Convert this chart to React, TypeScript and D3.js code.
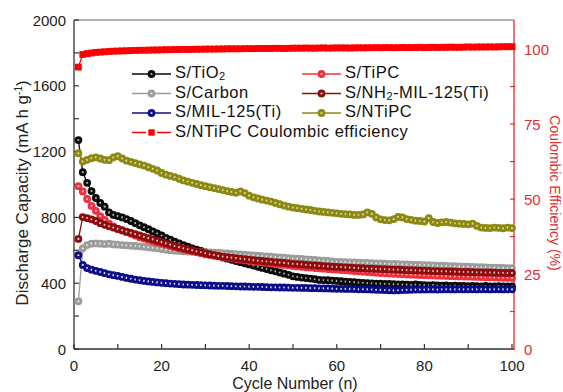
import React, { useEffect, useRef } from 'react';
import * as d3 from 'd3';

// cycle numbers 1..100
const cycles = d3.range(1, 101);

// discharge capacity (mA h g-1)
const tio2 = [1270,1075,1010,960,918,888,865,830,815,808,
  800,790,778,765,752,740,728,715,702,690,
  676,664,652,642,632,622,612,604,596,588,
  580,572,564,556,549,542,535,528,521,514,
  507,500,493,486,478,472,465,458,451,442,
  438,434,431,428,424,420,419,418,416,414,
  412,410,408,406,404,402,400,399,398,397,
  396,395,394,393,392,391,390,392,389,388,
  387,388,386,385,386,384,385,383,384,382,
  383,382,381,383,381,380,382,381,380,381];

const carbon = [290,612,632,640,642,640,638,640,636,634,
  632,630,628,626,624,621,618,615,612,608,
  604,601,598,596,594,592,591,590,589,588,
  587,586,585,583,581,579,577,575,573,571,
  569,567,565,563,561,559,557,555,553,551,
  549,547,545,543,541,539,537,535,532,530,
  529,528,527,526,525,524,523,522,521,520,
  519,518,517,516,515,514,513,512,511,510,
  509,508,507,506,505,504,503,502,501,500,
  499,498,497,496,495,495,494,493,492,492];

const tipc = [990,958,912,870,840,808,785,762,745,730,
  720,710,700,690,680,671,663,655,647,640,
  633,626,619,612,605,599,593,587,581,575,
  571,567,563,559,555,551,547,543,539,535,
  532,529,526,523,520,517,514,511,508,505,
  502,500,497,495,492,490,488,486,484,482,
  480,478,476,474,472,470,468,466,464,462,
  460,459,457,456,455,453,452,451,450,449,
  448,447,446,445,444,443,442,441,440,440,
  439,438,437,436,436,435,434,433,433,432];

const nh2mil = [669,802,796,788,778,765,755,746,738,730,
  722,714,706,698,690,682,674,666,658,650,
  642,634,626,619,612,606,600,594,588,582,
  576,571,566,562,558,555,552,549,546,543,
  540,537,535,532,530,527,525,523,520,518,
  516,514,512,510,508,506,504,502,500,499,
  498,496,495,493,492,491,489,488,487,486,
  485,484,483,482,481,480,479,478,477,476,
  475,474,473,472,472,471,470,469,468,468,
  467,466,466,465,465,464,463,463,462,462];

const mil125 = [570,511,492,482,475,468,461,454,449,444,
  438,432,427,422,418,414,411,408,405,402,
  400,398,396,394,392,391,390,389,388,387,
  386,385,384,384,383,382,381,380,380,379,
  378,378,377,376,375,375,374,374,373,372,
  372,371,371,370,370,369,368,368,367,366,
  366,365,365,364,363,363,362,361,360,359,
  358,357,356,357,358,359,360,361,361,361,
  362,362,361,362,363,362,362,363,362,363,
  363,362,363,363,362,363,363,362,363,363];

const ntipc = [1190,1140,1150,1160,1165,1158,1150,1148,1165,1172,
  1158,1145,1138,1130,1122,1115,1105,1095,1085,1070,
  1060,1052,1045,1035,1025,1018,1010,1003,996,990,
  984,978,972,966,960,955,950,958,948,932,
  922,915,908,902,896,888,880,872,865,860,
  856,852,848,845,840,836,833,830,828,825,
  822,820,818,815,815,818,830,822,800,788,
  784,782,790,803,800,790,785,780,778,775,
  796,772,766,770,772,768,764,762,760,758,
  762,748,738,736,735,738,736,734,738,735];

// coulombic efficiency (%) of S/NTiPC
const ce = [94.0,98.2,98.5,98.7,98.9,99.0,99.1,99.2,99.3,99.35,
  99.4,99.45,99.5,99.55,99.6,99.6,99.65,99.7,99.7,99.75,
  99.8,99.8,99.85,99.85,99.9,99.9,99.9,99.95,99.95,100.0,
  100.0,100.0,100.05,100.05,100.1,100.1,100.1,100.1,100.15,100.15,
  100.15,100.2,100.2,100.2,100.2,100.25,100.25,100.2,100.25,100.3,
  100.3,100.3,100.35,100.3,100.3,100.35,100.4,100.3,100.35,100.4,
  100.4,100.4,100.35,100.4,100.45,100.4,100.45,100.45,100.5,100.45,
  100.5,100.5,100.45,100.5,100.55,100.5,100.5,100.55,100.6,100.5,
  100.55,100.6,100.55,100.6,100.6,100.65,100.6,100.6,100.65,100.7,
  100.65,100.7,100.7,100.7,100.75,100.7,100.75,100.8,100.8,100.8];

const xTicks = [0, 20, 40, 60, 80, 100];
const yTicks = [0, 400, 800, 1200, 1600, 2000];
const ceTicks = [0, 25, 50, 75, 100];

const FONT = 'Arial, "Liberation Sans", Helvetica, sans-serif';

// label parts: [text, isSubscript]
const series = [
  { key: 'tio2', values: tio2, label: [['S/TiO', false], ['2', true]], color: '#0a0a0a', dot: '#b0b0b0' },
  { key: 'carbon', values: carbon, label: [['S/Carbon', false]], color: '#9c9c9c', dot: '#e8e8e8' },
  { key: 'tipc', values: tipc, label: [['S/TiPC', false]], color: '#ee3040', dot: '#f8c0c0' },
  { key: 'nh2', values: nh2mil, label: [['S/NH', false], ['2', true], ['-MIL-125(Ti)', false]], color: '#8e0c0c', dot: '#ecc8c8' },
  { key: 'mil', values: mil125, label: [['S/MIL-125(Ti)', false]], color: '#0c0c88', dot: '#dcdcff' },
  { key: 'ntipc', values: ntipc, label: [['S/NTiPC', false]], color: '#8a8a12', dot: '#f0d4b0' },
];

// legend grid [col,row] for each series, CE goes on row 3 col 0
const legendPos: Record<string, [number, number]> = {
  tio2: [0, 0], tipc: [1, 0], carbon: [0, 1], nh2: [1, 1], mil: [0, 2], ntipc: [1, 2],
};

export default function App() {
  const svgRef = useRef<SVGSVGElement>(null);

  useEffect(() => {
    const width = 563;
    const height = 392;
    const left = 74, right = 512, top = 20, bottom = 349;
    const axisR = 514;

    const svg = d3.select(svgRef.current);
    svg.selectAll('*').remove();
    svg.attr('width', width).attr('height', height);

    const x = d3.scaleLinear().domain([0, 100]).range([left, right]);
    const y = d3.scaleLinear().domain([0, 2000]).range([bottom, top]);
    const y2 = d3.scaleLinear().domain([0, 110]).range([bottom, top - 0.9]);

    const g = svg.append('g');

    // frame
    g.append('line').attr('x1', left).attr('x2', axisR).attr('y1', top).attr('y2', top)
      .attr('stroke', '#666').attr('stroke-width', 1.2);
    g.append('line').attr('x1', left).attr('x2', left).attr('y1', top).attr('y2', bottom)
      .attr('stroke', '#333').attr('stroke-width', 1.3);
    g.append('line').attr('x1', left).attr('x2', axisR).attr('y1', bottom).attr('y2', bottom)
      .attr('stroke', '#333').attr('stroke-width', 1.3);
    g.append('line').attr('x1', axisR).attr('x2', axisR).attr('y1', top).attr('y2', bottom)
      .attr('stroke', '#e03030').attr('stroke-width', 1.3);

    // ticks
    d3.range(0, 2001, 200).forEach(v => {
      g.append('line').attr('x1', left).attr('x2', left + 5).attr('y1', y(v)).attr('y2', y(v))
        .attr('stroke', '#333').attr('stroke-width', 1.2);
    });
    d3.range(0, 101, 10).forEach(v => {
      g.append('line').attr('x1', x(v)).attr('x2', x(v)).attr('y1', bottom).attr('y2', bottom - 5)
        .attr('stroke', '#333').attr('stroke-width', 1.2);
    });
    d3.range(0, 101, 12.5).forEach(v => {
      g.append('line').attr('x1', axisR - 4).attr('x2', axisR + 1).attr('y1', y2(v)).attr('y2', y2(v))
        .attr('stroke', '#e03030').attr('stroke-width', 1.2);
    });

    yTicks.forEach(v => {
      g.append('text').attr('x', 66).attr('y', y(v) + 5.5).attr('text-anchor', 'end')
        .attr('font-family', FONT).attr('font-size', 15).attr('fill', '#222').text(v);
    });
    xTicks.forEach(v => {
      g.append('text').attr('x', x(v)).attr('y', 371).attr('text-anchor', 'middle')
        .attr('font-family', FONT).attr('font-size', 15).attr('fill', '#222').text(v);
    });
    ceTicks.forEach(v => {
      g.append('text').attr('x', 524).attr('y', y2(v) + 5.5).attr('text-anchor', 'start')
        .attr('font-family', FONT).attr('font-size', 15).attr('fill', '#e03030').text(v);
    });

    // axis titles
    const yt = g.append('text').attr('transform', 'translate(28,193) rotate(-90)')
      .attr('text-anchor', 'middle').attr('font-family', FONT).attr('font-size', 17).attr('fill', '#222');
    yt.append('tspan').text('Discharge Capacity (mA h g');
    yt.append('tspan').attr('dy', -6).attr('font-size', 10).text('-1');
    yt.append('tspan').attr('dy', 6).text(')');

    g.append('text').attr('x', 295).attr('y', 389).attr('text-anchor', 'middle')
      .attr('font-family', FONT).attr('font-size', 16).attr('fill', '#222').text('Cycle Number (n)');

    g.append('text').attr('transform', 'translate(550,193) rotate(90)')
      .attr('text-anchor', 'middle').attr('font-family', FONT).attr('font-size', 14).attr('fill', '#e03030')
      .text('Coulombic Efficiency (%)');

    // series
    const line = d3.line<number>().x((d, i) => x(cycles[i])).y(d => y(d));
    const drawMarker = (sel: any, cx: number, cy: number, s: any) => {
      sel.append('circle').attr('cx', cx).attr('cy', cy).attr('r', 3.9).attr('fill', s.color);
      sel.append('circle').attr('cx', cx).attr('cy', cy).attr('r', 1.1).attr('fill', s.dot);
    };

    series.forEach(s => {
      const sg = g.append('g');
      sg.append('path').attr('d', line(s.values)).attr('fill', 'none')
        .attr('stroke', s.color).attr('stroke-width', 1.3);
      s.values.forEach((v, i) => drawMarker(sg, x(cycles[i]), y(v), s));
    });

    // coulombic efficiency
    const ceLine = d3.line<number>().x((d, i) => x(cycles[i])).y(d => y2(d));
    const cg = g.append('g');
    cg.append('path').attr('d', ceLine(ce)).attr('fill', 'none').attr('stroke', '#ff0000').attr('stroke-width', 1.3);
    ce.forEach((v, i) => {
      cg.append('rect').attr('x', x(cycles[i]) - 3.4).attr('y', y2(v) - 3.4)
        .attr('width', 6.8).attr('height', 6.8).attr('fill', '#ff0000');
    });

    // legend
    const colX = [132, 302];
    const rowY = [74, 93.5, 113, 132.5];
    const addLabel = (tx: number, ty: number, parts: any[], color = '#111') => {
      const t = g.append('text').attr('x', tx).attr('y', ty + 6)
        .attr('font-family', FONT).attr('font-size', 16.5).attr('letter-spacing', 0.5).attr('fill', color);
      parts.forEach(([str, sub]) => {
        if (sub) t.append('tspan').attr('font-size', 11).attr('dy', 2).text(str);
        else t.append('tspan').attr('dy', t.selectAll('tspan').size() > 0 ? -2 : 0).text(str);
      });
    };
    series.forEach(s => {
      const [c, r] = legendPos[s.key];
      const lx = colX[c], ly = rowY[r];
      g.append('line').attr('x1', lx).attr('x2', lx + 39).attr('y1', ly).attr('y2', ly)
        .attr('stroke', s.color).attr('stroke-width', 1.5);
      drawMarker(g, lx + 19.5, ly, s);
      addLabel(lx + 43, ly, s.label);
    });
    {
      const lx = colX[0], ly = rowY[3];
      g.append('line').attr('x1', lx).attr('x2', lx + 14).attr('y1', ly).attr('y2', ly)
        .attr('stroke', '#ff0000').attr('stroke-width', 1.5);
      g.append('line').attr('x1', lx + 25).attr('x2', lx + 39).attr('y1', ly).attr('y2', ly)
        .attr('stroke', '#ff0000').attr('stroke-width', 1.5);
      g.append('rect').attr('x', lx + 16.3).attr('y', ly - 3.2).attr('width', 6.4).attr('height', 6.4)
        .attr('fill', '#ff0000');
      addLabel(lx + 43, ly, [['S/NTiPC Coulombic efficiency', false]]);
    }
  }, []);

  return (
    <div style={{ position: 'absolute', left: 0, top: 0 }}>
      <svg ref={svgRef}></svg>
    </div>
  );
}
